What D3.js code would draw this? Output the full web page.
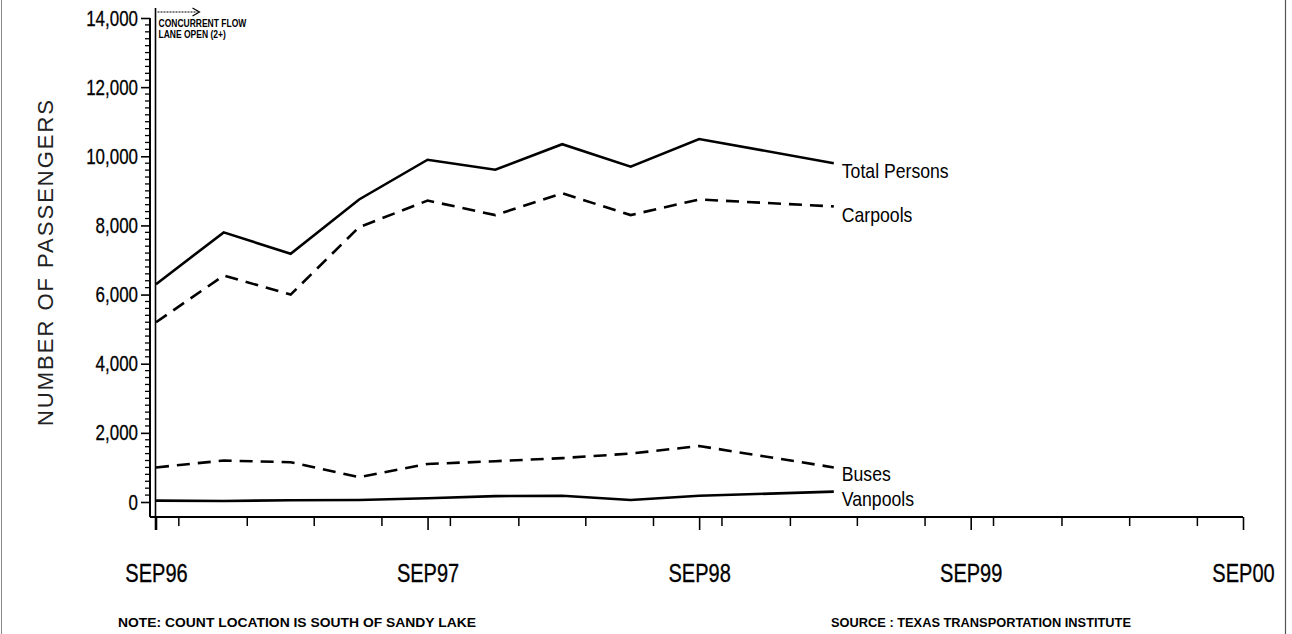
<!DOCTYPE html>
<html>
<head>
<meta charset="utf-8">
<script src="https://cdn.jsdelivr.net/npm/d3@7"></script>
<style>
  html, body { margin: 0; padding: 0; background: #fff; }
  svg { display: block; }
</style>
</head>
<body>
<svg id="chart" width="1292" height="634"></svg>
<script>
// ---- data ----
const periods = ["1996-09","1996-12","1997-03","1997-06","1997-09","1997-12","1998-03","1998-06","1998-09","1999-03"];
const totalPersons = [6300, 7800, 7180, 8750, 9900, 9610, 10350, 9700, 10500, 9800];
const carpools     = [5200, 6550, 6000, 7950, 8720, 8300, 8930, 8300, 8750, 8550];
const buses        = [1000, 1200, 1150,  720, 1100, 1180, 1270, 1400, 1620, 1000];
const vanpools     = [  40,   30,   50,   60,  110,  170,  180,   60,  180,  300];
const seriesNames  = ["Total Persons", "Carpools", "Buses", "Vanpools"];
const yTicks = [0, 2000, 4000, 6000, 8000, 10000, 12000, 14000];
const xTickDates = ["1996-09","1997-09","1998-09","1999-09","2000-09"];
const xTickLabels = ["SEP96","SEP97","SEP98","SEP99","SEP00"];
const yTitle = "NUMBER OF PASSENGERS";
const noteText = "NOTE: COUNT LOCATION IS SOUTH OF SANDY LAKE";
const sourceText = "SOURCE : TEXAS TRANSPORTATION INSTITUTE";
const annotLines = ["CONCURRENT FLOW", "LANE OPEN (2+)"];

// ---- setup ----
const FONT = "'Liberation Sans', Arial, sans-serif";
const parse = d3.timeParse("%Y-%m");
const svg = d3.select("#chart");
const W = 1292, H = 634;

// condense text horizontally (reference uses a condensed sans)
function condense(sel, f) {
  sel.each(function () {
    const l = this.getComputedTextLength();
    d3.select(this).attr("textLength", l * f).attr("lengthAdjust", "spacingAndGlyphs");
  });
}

// page border lines
svg.append("line").attr("x1", 1.5).attr("x2", 1.5).attr("y1", 0).attr("y2", H)
  .attr("stroke", "#888").attr("stroke-width", 1);
svg.append("line").attr("x1", 1285.5).attr("x2", 1285.5).attr("y1", 0).attr("y2", H)
  .attr("stroke", "#555").attr("stroke-width", 1.2);

const x = d3.scaleTime()
  .domain([parse("1996-09"), parse("2000-09")])
  .range([156, 1243]);
const y = d3.scaleLinear().domain([0, 14000]).range([502, 18]);

const yAxisX = 150, xAxisY = 517;

// ---- Y axis ----
const gY = svg.append("g").attr("transform", `translate(${yAxisX},0)`);
gY.append("line").attr("x1", 0).attr("x2", 0).attr("y1", y(14000)).attr("y2", xAxisY)
  .attr("stroke", "#000").attr("stroke-width", 2);
const minorY = d3.range(0, 14001, 200).filter(v => v % 2000 !== 0);
gY.selectAll(".ymin").data(minorY).join("line")
  .attr("x1", -5).attr("x2", 0).attr("y1", d => y(d)).attr("y2", d => y(d))
  .attr("stroke", "#000").attr("stroke-width", 1.3);
const yAxis = d3.axisLeft(y).tickValues(yTicks).tickSize(9).tickPadding(3)
  .tickFormat(d3.format(","));
const gYA = svg.append("g").attr("transform", `translate(${yAxisX},0)`).call(yAxis);
gYA.select(".domain").remove();
gYA.selectAll(".tick line").attr("stroke", "#000").attr("stroke-width", 1.6);
gYA.selectAll(".tick text").attr("font-size", 22).attr("fill", "#000").attr("font-family", FONT)
  .attr("stroke", "#000").attr("stroke-width", 0.3)
  .call(condense, 0.77);

// Y title
svg.append("text")
  .attr("transform", `translate(53,262) rotate(-90)`)
  .attr("text-anchor", "middle")
  .attr("font-family", FONT)
  .attr("font-size", 22).attr("letter-spacing", 2)
  .attr("fill", "#222")
  .text(yTitle);

// ---- X axis ----
svg.append("line").attr("x1", yAxisX).attr("x2", x(parse("2000-09")))
  .attr("y1", xAxisY).attr("y2", xAxisY).attr("stroke", "#000").attr("stroke-width", 2);
const quarterTicks = d3.timeMonth.every(3).range(parse("1996-09"), parse("2000-10"))
  .filter(d => d.getMonth() !== 8);
const gXmin = svg.append("g").attr("transform", `translate(0,${xAxisY})`)
  .call(d3.axisBottom(x).tickValues(quarterTicks).tickSize(9).tickFormat(""));
gXmin.select(".domain").remove();
gXmin.selectAll(".tick line").attr("stroke", "#000").attr("stroke-width", 1.5);
const gX = svg.append("g").attr("transform", `translate(0,${xAxisY})`)
  .call(d3.axisBottom(x).tickValues(xTickDates.map(parse)).tickSize(13).tickPadding(34)
    .tickFormat((d, i) => xTickLabels[i]));
gX.select(".domain").remove();
gX.selectAll(".tick line").attr("stroke", "#000").attr("stroke-width", 1.6);
gX.selectAll(".tick text").attr("font-size", 25).attr("fill", "#000").attr("font-family", FONT)
  .attr("stroke", "#000").attr("stroke-width", 0.3)
  .call(condense, 0.8);

// ---- concurrent flow marker ----
const markX = x(parse("1996-09")) - 0.5;
svg.append("line").attr("x1", markX).attr("x2", markX).attr("y1", 8).attr("y2", 530)
  .attr("stroke", "#000").attr("stroke-width", 1.6);
svg.append("line").attr("x1", markX + 2).attr("x2", markX + 42).attr("y1", 12).attr("y2", 12)
  .attr("stroke", "#000").attr("stroke-width", 1).attr("stroke-dasharray", "2,1");
svg.append("path")
  .attr("d", `M${markX + 37},8 L${markX + 44},12 L${markX + 37},16`)
  .attr("fill", "none").attr("stroke", "#000").attr("stroke-width", 1.2);
svg.selectAll(".annot").data(annotLines).join("text")
  .attr("x", markX + 3).attr("y", (d, i) => 27 + i * 11)
  .attr("font-family", FONT)
  .attr("font-weight", "bold").attr("font-size", 10).attr("fill", "#000")
  .text(d => d)
  .call(condense, 0.85);

// ---- series ----
const series = [
  { name: seriesNames[0], values: totalPersons, dash: null, dy: 7 },
  { name: seriesNames[1], values: carpools, dash: "13,8", dy: 8 },
  { name: seriesNames[2], values: buses, dash: "13,8", dy: 6 },
  { name: seriesNames[3], values: vanpools, dash: null, dy: 7 }
];
const line = d3.line().x((d, i) => x(parse(periods[i]))).y(d => y(d));
svg.selectAll(".series").data(series).join("path")
  .attr("d", d => line(d.values))
  .attr("fill", "none").attr("stroke", "#000").attr("stroke-width", 2.6)
  .attr("stroke-dasharray", d => d.dash);
svg.selectAll(".slabel").data(series).join("text")
  .attr("x", d => x(parse(periods[periods.length - 1])) + 8)
  .attr("y", d => y(d.values[d.values.length - 1]) + d.dy)
  .attr("dominant-baseline", "central")
  .attr("font-family", FONT)
  .attr("font-size", 21).attr("fill", "#000")
  .text(d => d.name)
  .call(condense, 0.84);

// ---- footnotes ----
svg.append("text").attr("x", 118).attr("y", 627)
  .attr("font-family", FONT)
  .attr("font-weight", "bold").attr("font-size", 13)
  .attr("textLength", 358).attr("lengthAdjust", "spacingAndGlyphs")
  .text(noteText);
svg.append("text").attr("x", 831).attr("y", 627)
  .attr("font-family", FONT)
  .attr("font-weight", "bold").attr("font-size", 13)
  .attr("textLength", 300).attr("lengthAdjust", "spacingAndGlyphs")
  .text(sourceText);
</script>
</body>
</html>
